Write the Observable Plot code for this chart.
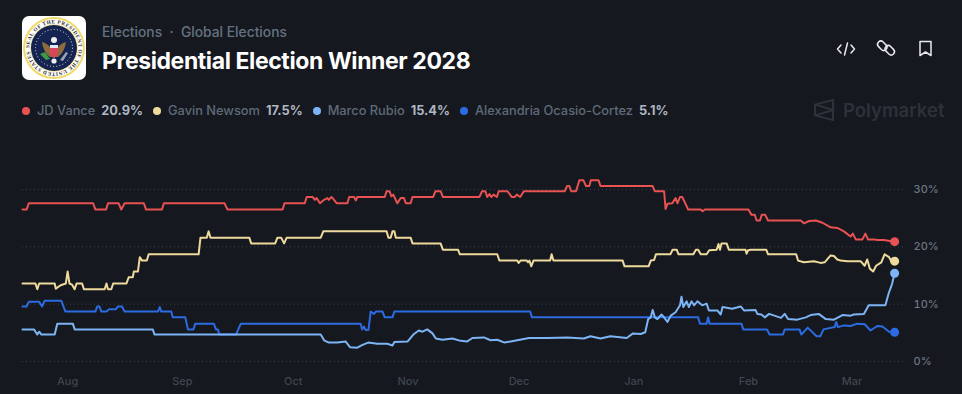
<!DOCTYPE html>
<html><head><meta charset="utf-8">
<script src="https://cdn.jsdelivr.net/npm/d3@7"></script>
<script src="https://cdn.jsdelivr.net/npm/@observablehq/plot@0.6"></script>
<style>
html,body{margin:0;padding:0;background:#15181e;width:962px;height:394px;overflow:hidden;font-family:Inter,"Noto Sans",sans-serif}
#page{position:relative;width:962px;height:394px}
.abs{position:absolute;white-space:nowrap}
#crumb{left:102px;top:23px;font-size:13.800px;line-height:18px;color:#657282;font-weight:500}
#title{left:102px;top:46px;font-size:23px;line-height:30px;color:#fff;font-weight:700;letter-spacing:-.4px}
#legend{left:22px;top:102px;font-size:12.800px;line-height:18px;display:flex;align-items:center}
#legend .it{display:flex;align-items:center;margin-right:10px}
#legend i{width:8px;height:8px;border-radius:50%;display:block;margin-right:7px}
#legend span{color:#5f6b79;font-weight:500;margin-right:6px}
#legend b{color:#aeb7c1;font-weight:700}
#brand{left:843px;top:98px;font-size:18.500px;line-height:24px;font-weight:600;color:#2b323a}
#chart{left:0;top:130px}
#chart svg{display:block;background:transparent}
</style></head><body>
<div id="page">
<svg class="abs" style="left:22px;top:16px" width="64" height="64" viewBox="0 0 64 64">
  <rect width="64" height="64" rx="7" fill="#fff"/>
  <circle cx="32" cy="32" r="31" fill="#f1d96a"/><circle cx="32" cy="32" r="29" fill="#fff"/>
  <circle cx="32" cy="32" r="24" fill="#f3e6a6"/><circle cx="32" cy="32" r="23" fill="#14234f"/>
  <defs><path id="ring" d="M32 32m-24.6 0a24.6 24.6 0 1 1 49.2 0a24.6 24.6 0 1 1-49.2 0"/></defs>
  <text font-size="5.2" font-family="Liberation Serif,serif" fill="#2a2a2a" font-weight="700"><textPath href="#ring" textLength="150">SEAL OF THE PRESIDENT OF THE UNITED STATES</textPath></text>
  <circle cx="32" cy="32" r="18.5" fill="none" stroke="#dfe3ee" stroke-width="1" stroke-dasharray="1 2.2"/>
  <path d="M20 26c4 1 7 3 9 7h6c2-4 5-6 9-7-1 7-4 12-8 15h-8c-4-3-7-8-8-15z" fill="#8d6c3a"/>
  <circle cx="32" cy="24" r="3" fill="#eee"/>
  <path d="M28 29h8v7c0 3-2 5-4 6-2-1-4-3-4-6z" fill="#d9465b"/><rect x="28" y="29" width="8" height="3" fill="#dfe7f5"/>
  <path d="M18 38l6 6 4-1-5-7z" fill="#3f9a46"/><path d="M46 37l-5 8-3-1 6-8z" fill="#9aa3b5"/>
  <circle cx="32" cy="45" r="2.6" fill="#eee"/>
</svg>
<div id="crumb" class="abs">Elections &nbsp;·&nbsp; Global Elections</div>
<div id="title" class="abs">Presidential Election Winner 2028</div>
<svg class="abs" style="left:836px;top:38px" width="100" height="22" viewBox="0 0 100 22" fill="none" stroke="#e8eaed" stroke-width="1.500" stroke-linecap="round" stroke-linejoin="round">
  <path d="M5 7l-3.500 4L5 15M15 7l3.500 4L15 15M11.500 5l-3 12"/>
  <rect x="41" y="4.500" width="10.500" height="6.500" rx="3.250" transform="rotate(45 46.250 7.750)"/>
  <rect x="48.500" y="9" width="10.500" height="6.500" rx="3.250" transform="rotate(45 53.750 12.250)"/>
  <path d="M84 3.500h11V17.500l-5.500-3.500-5.500 3.500z"/>
</svg>
<div id="legend" class="abs"></div>
<svg class="abs" style="left:813px;top:98px" width="22" height="24" viewBox="0 0 22 24" fill="none" stroke="#2b323a" stroke-width="2">
  <path d="M20 2L2 6.500v11L20 22zM2 6.500L20 12 2 17.500"/>
</svg>
<div id="brand" class="abs">Polymarket</div>
<div id="chart" class="abs"></div>
</div>
<script>
const names = ["JD Vance","Gavin Newsom","Marco Rubio","Alexandria Ocasio-Cortez"];
const latest = ["20.9%","17.5%","15.4%","5.1%"];
const colors = ["#e85252","#eeda9c","#7db4f5","#2c6be2"];
const yTicks = [0,10,20,30];
const monthTicks = ["2025-08-01","2025-09-01","2025-10-01","2025-11-01","2025-12-01","2026-01-01","2026-02-01","2026-03-01"];
const startDate = "2025-08-01";

// days since 1 Aug 2025, and percent chance
const vanceDays = [-12.2,-11.1,-10.5,6.9,7.5,10.4,10.9,13.8,14.5,15.4,20.6,21.2,25.5,26,42.4,43.2,58.1,58.6,64.1,64.6,66.2,66.8,67.3,68.2,69.3,70.2,70.6,71.3,72,72.7,75.6,76.1,77.4,77.9,78.3,85.7,86.2,87,87.5,88,89.1,90,90.9,91.4,92.7,93.2,98.8,99.4,100.8,101.4,111.3,112,112.9,113.4,114,114.5,115.1,116,116.5,118.9,120,120.8,121.4,122.3,123.3,134.3,135,135.6,136.1,137.4,138.3,139.4,140.1,141,141.4,143.5,144,158.1,158.7,161.2,161.6,162.1,163.4,164.3,164.8,165.5,166.1,167,167.7,171.1,171.6,172.2,184,184.8,185.7,186.2,187.1,187.6,188.5,189.3,198.1,199,200.4,202.2,204,206.2,208,209.800,211.6,212.2,213,214.8,215.6,216.3,217.9,218.8,220.6,223.5];
const vanceValues = [26.5,26.5,27.6,27.6,26.5,26.5,27.6,27.6,26.5,27.6,27.6,26.5,26.5,27.6,27.6,26.5,26.5,27.6,27.6,28.7,28.7,28.2,28.5,27.6,28.2,28.5,28.2,28.7,28.2,27.6,27.6,28.7,28.7,28.1,28.7,28.7,29.7,29.7,28.8,29.1,27.6,28.5,28.5,27.6,27.6,28.7,28.7,29.7,29.7,28.7,28.7,29.7,29.7,28.7,29.2,28.7,29.1,28.7,29.7,29.7,28.7,28.7,29.1,28.7,29.7,29.7,30.6,30.6,29.7,29.7,31.6,31.6,30.6,30.6,31.6,31.6,30.6,30.6,29.7,29.7,26.6,27.5,27.6,28.5,27.6,28.7,28.7,27.5,26.5,26.5,26.2,26.5,26.5,25.6,25.6,24.6,24.6,25.6,25.6,24.6,24.6,24.1,24.5,24.6,24.2,23.4,23.3,22.7,21.8,22.3,21.3,21.3,22.3,21.3,21.3,21.2,21.2,20.9];

const newsomDays = [-12.2,-8.7,-8.2,-7.7,-3.5,-3.2,-1.9,-.5,0,.5,1.2,1.9,2.4,3.9,4.4,10,10.5,10.9,11.8,12.3,15.9,16.5,17.6,17.9,19,19.5,20.1,21.4,21.9,35.4,35.9,37.6,38.1,38.6,49.1,49.6,56.1,56.7,57.7,58.5,59.2,68.4,69.1,86.2,86.7,87.3,87.8,88.3,88.7,92.7,93.2,100.8,101.4,105.5,106,116.1,116.7,121.5,121.9,122.4,124.1,124.4,124.8,125.3,125.9,130.4,130.8,131.3,150,150.5,157,157.6,158.5,159,162.9,163.5,164.6,165.1,169.1,169.8,170.4,171.1,172.7,173.4,175.4,175.9,176.3,176.7,178.1,178.7,183.2,183.5,183.9,184.6,188.8,189.3,196.9,197.4,199,201.7,203.5,204.6,206.2,207.1,208,208.9,210.7,214.3,215.4,216.1,216.8,217.7,218.5,219.9,220.8,222,222.6,223.5];
const newsomValues = [13.6,13.6,12.6,13.6,13.6,12.7,13.3,13.6,15.7,13.6,13.4,12.6,13.6,13.6,12.6,12.6,13.6,12.6,12.6,13.6,13.6,14.7,14.7,15.7,15.7,18.2,17.6,17.6,18.7,18.7,21.6,21.6,22.7,21.6,21.6,20.6,20.6,21.6,21.6,20.6,21.6,21.6,22.7,22.7,21.6,21.6,22.7,22.7,21.6,21.6,20.6,20.6,19.5,19.5,18.7,18.7,17.6,17.6,17.2,17.6,17.6,17.3,17.6,16.6,17.6,17.6,18.7,17.6,17.6,16.6,16.6,17.6,17.7,18.7,18.7,19.5,19.5,18.7,18.7,19.5,19.5,18.7,18.7,19.4,19.5,20.5,19.5,20.6,20.6,19.5,19.5,18.8,19.4,19.5,19.5,18.7,18.7,17.6,17.3,17.5,17.2,17.3,18.5,18.4,17.8,17.6,17.5,17.5,16.7,17.8,16.2,15.7,16.7,17.3,18.7,18.2,17.5,17.5];

const rubioDays = [-12.2,-9.1,-8.2,-7.7,-7.1,-3.5,-2.8,1.4,1.9,23,23.5,68.4,69.3,70.6,72.9,75.1,76.3,78.3,79.4,81.2,83.7,86.4,87.8,88.3,91.9,93.6,94.9,95.9,97.2,98.6,99.5,101.3,104,106.2,108,109.4,112.5,114.3,116.1,118.1,121.5,124.7,129.6,135,139.5,141.3,144,146.7,151.1,152.8,154.9,156.1,156.9,157.6,158.1,158.7,159.4,160.5,161.2,162.1,163,164.3,165.5,165.9,166.4,167.3,167.9,168.6,169.3,170.2,171.5,172.7,173.3,175.6,176.5,177,179.6,181.9,182.8,185.9,186.4,187.5,188.4,189.6,192.8,193.8,194.7,197.2,199.5,200.8,203,204.9,207.1,209.4,211.6,212.5,215.2,216.5,221,221.9,222.8,223.5];
const rubioValues = [5.6,5.6,4.7,5.2,4.7,4.7,6.6,6.6,5.6,5.6,4.7,4.7,3.7,3.3,3.3,3.5,2.5,2.4,2.8,3.3,3.1,3.1,2.8,3.4,3.5,4.8,5.4,5.2,5.6,4.9,4,3.8,4,3.6,3.5,4.1,4.2,3.7,3.8,3.3,3.7,4.1,4.1,4.2,4,4.4,4,4.4,4.1,4.9,4.8,5.1,7.4,7.7,9,7.7,7.4,8.2,7.7,6.9,8,8.6,9.8,11.3,9.5,10.5,9.500,10.5,9.8,10.5,9.8,10.1,8.9,8.9,8.2,9.5,9.2,9.6,8.9,9,8.3,8.2,7.7,8.3,7.600,8.3,7.400,7.300,7.7,8.100,8.3,7.400,7.300,8.100,8,8.200,8.300,9.800,9.800,11.900,13.500,15.400];

const aocDays = [-12.2,-11.1,-10.5,-7.7,-6.9,-6.2,-1.7,-.6,7.5,8,8.6,9.1,10.5,11.1,13,13.6,14.7,15.4,24.4,24.9,25.3,28,28.4,31.8,32.5,34,34.5,39.5,40.1,40.6,41,45.5,46.8,79.2,79.6,80.1,80.5,81.3,81.9,82.8,83.3,85.1,85.7,87.8,88.3,125,125.5,170.4,170.9,172.7,173.1,173.5,182.1,182.6,189,189.7,193.3,193.8,197.8,198.3,200,201,202.4,203.4,204.3,207.3,207.7,208.2,209.8,211.6,213.4,215.4,217,218.8,220.2,222,223.5];
const aocValues = [9.6,9.6,10.4,10.4,9.6,10.6,10.6,8.7,8.7,9.6,9.6,8.7,8.7,9.1,9.1,9.6,9.6,8.7,8.7,9.5,8.7,8.7,7.7,7.7,5.6,5.6,6.6,6.6,5.6,5.6,4.7,4.7,6.6,6.6,5.6,6.1,5.5,5.5,8.7,8.3,8.7,8.7,7.7,7.7,8.7,8.7,7.7,7.7,6.6,6.6,7.7,6.6,6.6,5.6,5.6,4.7,4.7,5.6,5.6,4.7,5.9,5.3,4.4,4.4,5.6,6,6.9,6,6.3,6.2,6.6,6.5,5.4,6.2,6.1,5.2,5.1];

const series = [
  [aocDays, aocValues, 3],
  [rubioDays, rubioValues, 2],
  [newsomDays, newsomValues, 1],
  [vanceDays, vanceValues, 0]
];
const toDate = d => new Date(Date.parse(startDate + "T00:00:00Z") + d * 864e5);
const rows = series.flatMap(([ds, vs, i]) => ds.map((d, j) => ({date: toDate(d), value: vs[j], name: names[i]})));
const ends = series.map(([ds, vs, i]) => ({date: toDate(ds[ds.length - 1]), value: parseFloat(latest[i]), name: names[i]}));

document.getElementById("legend").innerHTML = names.map((n, i) =>
  `<div class="it"><i style="background:${colors[i]}"></i><span>${n}</span><b>${latest[i]}</b></div>`).join("");

const chart = Plot.plot({
  width: 962, height: 264,
  marginLeft: 22, marginRight: 59, marginTop: 10, marginBottom: 33,
  style: {background: "transparent", fontFamily: "Inter, sans-serif"},
  x: {type: "utc", domain: [toDate(-12.2), toDate(225.9)], range: [22, 903]},
  y: {domain: [0, 30], range: [231, 59]},
  color: {domain: names, range: colors},
  marks: [
    Plot.ruleY(yTicks, {stroke: "#3c424a", strokeWidth: 1, strokeDasharray: "1 3"}),
    Plot.axisY(yTicks, {anchor: "right", tickSize: 0, tickPadding: 10, label: null, tickFormat: d => d + "%", fill: "#6c7683", fontSize: 11, fontWeight: 500}),
    Plot.axisX(monthTicks.map(d => new Date(d + "T00:00:00Z")), {anchor: "bottom", tickSize: 0, tickPadding: 16, label: null, tickFormat: d3.utcFormat("%b"), fill: "#3f4650", fontSize: 11, fontWeight: 500}),
    Plot.line(rows, {x: "date", y: "value", z: "name", stroke: "name", strokeWidth: 2, curve: "linear"}),
    Plot.dot(ends, {x: "date", y: "value", fill: "name", r: 4.5, stroke: "none"})
  ]
});
document.getElementById("chart").appendChild(chart);
</script>
</body></html>
